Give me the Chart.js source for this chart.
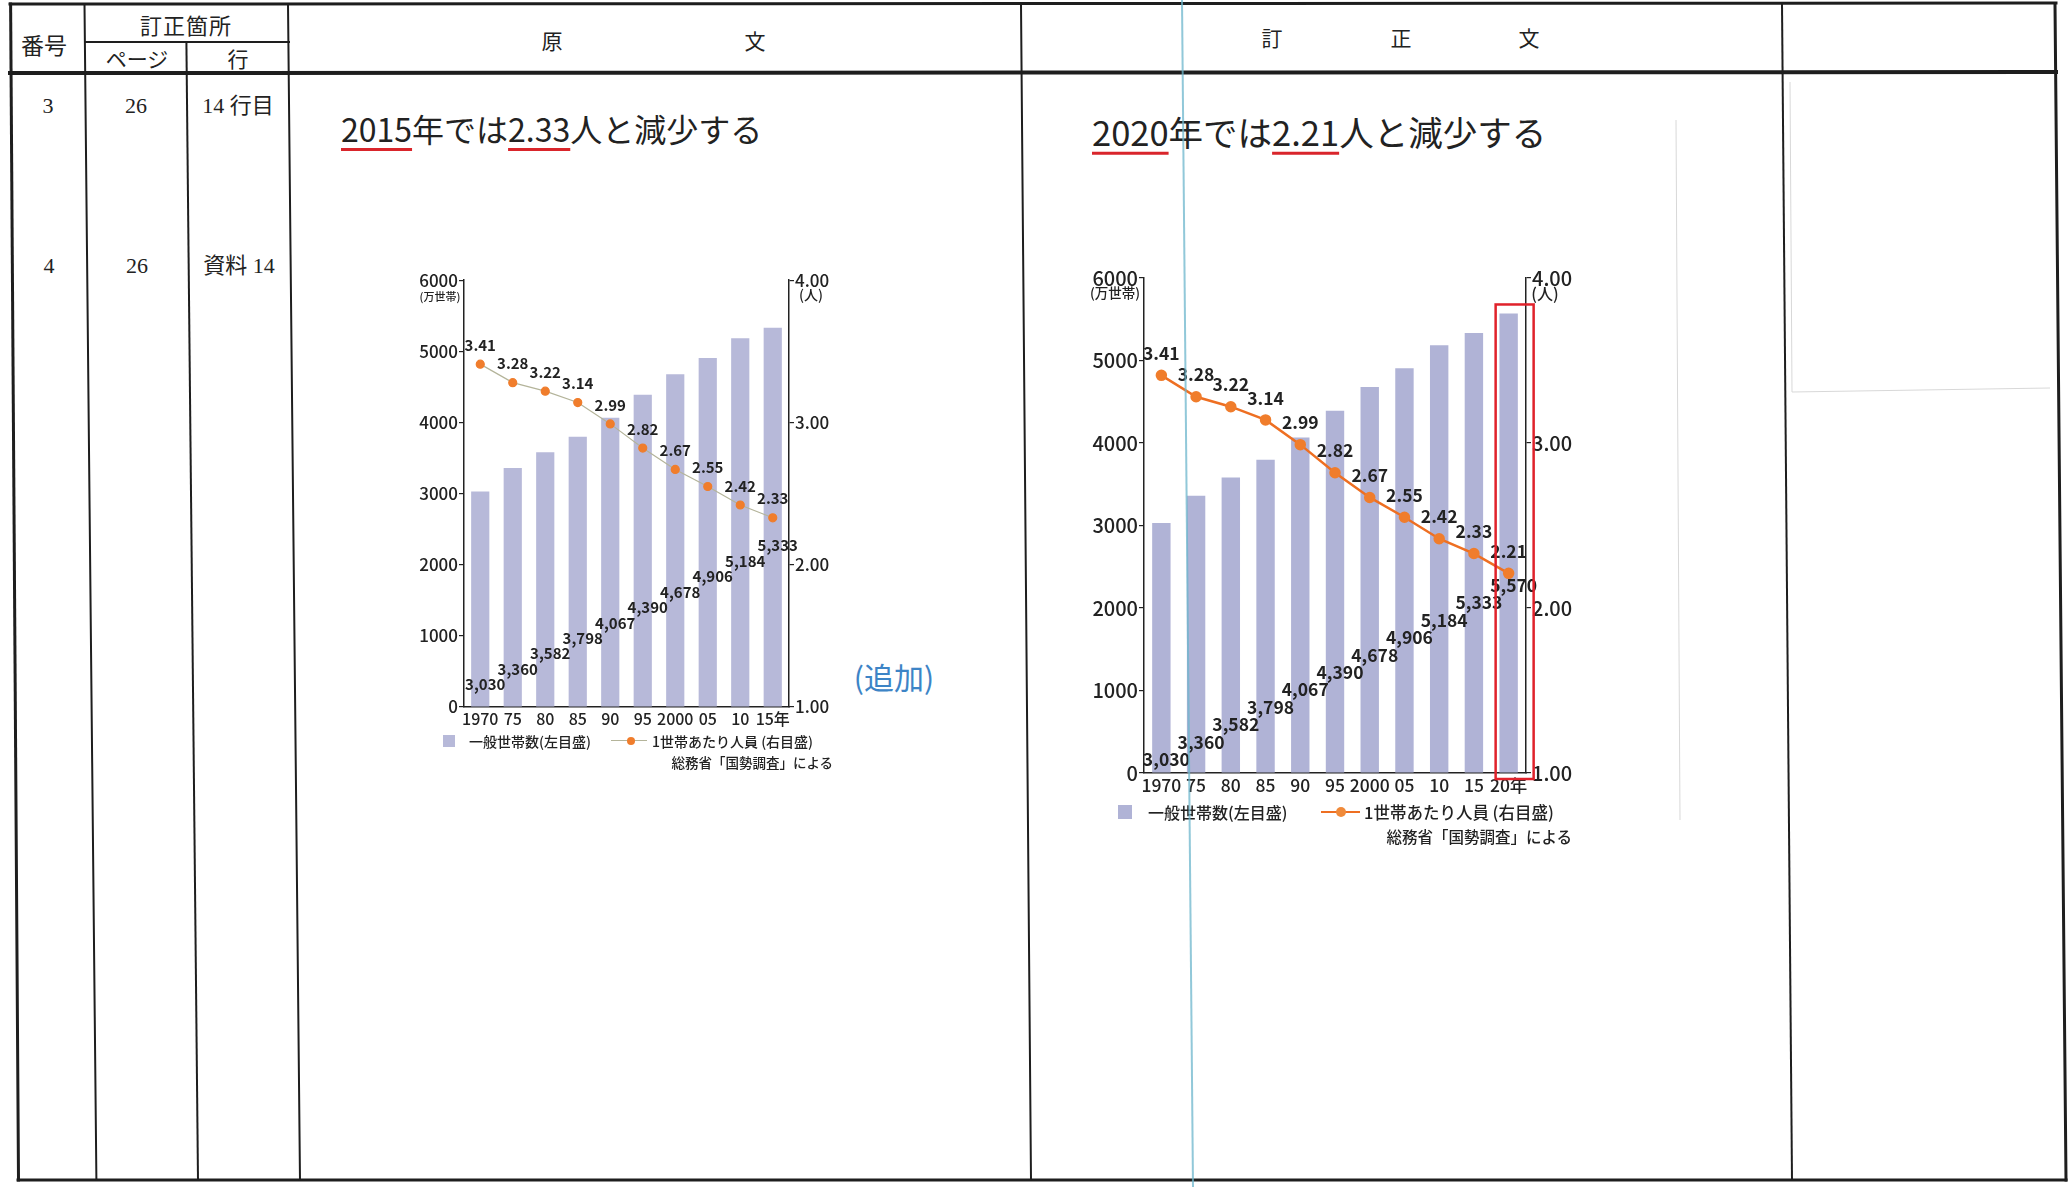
<!DOCTYPE html>
<html lang="ja">
<head>
<meta charset="utf-8">
<title>訂正表 資料14</title>
<script src="https://cdn.jsdelivr.net/npm/chart.js@4.4.1/dist/chart.umd.min.js"></script>
<style>
  html, body { margin: 0; padding: 0; background: #fff; }
  body { width: 2071px; height: 1187px; position: relative; overflow: hidden;
         font-family: "Noto Sans CJK JP", sans-serif; color: #222; }
  .t { position: absolute; white-space: nowrap; line-height: 1; transform: translate(-50%, -50%); }
  .l { position: absolute; white-space: nowrap; line-height: 1; transform: translateY(-50%); }
  .r { position: absolute; white-space: nowrap; line-height: 1; transform: translate(-100%, -50%); }
  .serif { font-family: "Liberation Serif", "Noto Sans CJK JP", serif; }
  .u { text-decoration: underline; text-decoration-color: #d9252b;
       text-decoration-thickness: 3px; text-underline-offset: 6px; }
  .box { position: absolute; }
  .sw { position: absolute; }
  #lines { position: absolute; left: 0; top: 0; pointer-events: none; }
</style>
</head>
<body>

<!-- header -->
<div class="t" style="left:44px;top:44px;font-size:23px">番号</div>
<div class="t" style="left:186px;top:24px;font-size:22px;letter-spacing:1px">訂正箇所</div>
<div class="t" style="left:137px;top:58px;font-size:21px">ページ</div>
<div class="t" style="left:238px;top:58px;font-size:21px">行</div>
<div class="t" style="left:552px;top:40px;font-size:21px">原</div>
<div class="t" style="left:755px;top:40px;font-size:21px">文</div>
<div class="t" style="left:1272px;top:37px;font-size:21px">訂</div>
<div class="t" style="left:1401px;top:37px;font-size:21px">正</div>
<div class="t" style="left:1529px;top:37px;font-size:21px">文</div>

<!-- rows -->
<div class="t serif" style="left:48px;top:106px;font-size:22px">3</div>
<div class="t serif" style="left:136px;top:106px;font-size:22px">26</div>
<div class="t serif" style="left:238px;top:106px;font-size:22px">14 行目</div>
<div class="t serif" style="left:49px;top:266px;font-size:22px">4</div>
<div class="t serif" style="left:137px;top:266px;font-size:22px">26</div>
<div class="t serif" style="left:239px;top:266px;font-size:22px">資料 14</div>

<div class="l" style="left:341px;top:128px;font-size:32px"><span class="u">2015</span>年では<span class="u">2.33</span>人と減少する</div>
<div class="l" style="left:1092px;top:131px;font-size:34.5px"><span class="u">2020</span>年では<span class="u">2.21</span>人と減少する</div>

<div class="t" style="left:894px;top:676px;font-size:30px;color:#3d84c6">(追加)</div>

<!-- chart 1 -->
<div class="box" style="left:404px;top:269px;width:445px;height:468px"><canvas id="chartOld"></canvas></div>
<div class="t" style="left:440px;top:296px;font-size:11px;font-weight:500">(万世帯)</div>
<div class="t" style="left:811px;top:294px;font-size:14px;font-weight:500">(人)</div>
<div class="sw" style="left:443px;top:735px;width:12px;height:12px;background:#b7b9d9"></div>
<div class="l" style="left:469px;top:741px;font-size:14px;font-weight:500">一般世帯数(左目盛)</div>
<div class="sw" style="left:611px;top:740px;width:36px;height:1px;background:#b4b49a"></div>
<div class="sw" style="left:627px;top:737px;width:8px;height:8px;border-radius:50%;background:#f07d2c"></div>
<div class="l" style="left:652px;top:741px;font-size:14px;font-weight:500">1世帯あたり人員 (右目盛)</div>
<div class="r" style="left:833px;top:763px;font-size:13.5px;font-weight:500">総務省「国勢調査」による</div>

<!-- chart 2 -->
<div class="box" style="left:1084px;top:265px;width:502px;height:538px"><canvas id="chartNew"></canvas></div>
<div class="t" style="left:1115px;top:293px;font-size:13.5px;font-weight:500">(万世帯)</div>
<div class="t" style="left:1545px;top:293px;font-size:16px;font-weight:500">(人)</div>
<div class="sw" style="left:1118px;top:805px;width:14px;height:14px;background:#b0b3d6"></div>
<div class="l" style="left:1148px;top:812px;font-size:16px;font-weight:500">一般世帯数(左目盛)</div>
<div class="sw" style="left:1321px;top:811px;width:39px;height:2px;background:#ee6f22"></div>
<div class="sw" style="left:1336px;top:807px;width:10px;height:10px;border-radius:50%;background:#f08a3a"></div>
<div class="l" style="left:1364px;top:812px;font-size:16.5px;font-weight:500">1世帯あたり人員 (右目盛)</div>
<div class="r" style="left:1572px;top:837px;font-size:15.5px;font-weight:500">総務省「国勢調査」による</div>

<!-- table rules -->
<svg id="lines" width="2071" height="1187" viewBox="0 0 2071 1187">
  <g stroke="#1e1e1e" fill="none" stroke-linecap="square">
    <line x1="10" y1="4" x2="2056" y2="3" stroke-width="3"/>
    <line x1="18" y1="1180" x2="2066" y2="1180" stroke-width="3"/>
    <line x1="10" y1="73" x2="2056" y2="72" stroke-width="4"/>
    <line x1="85" y1="42" x2="289" y2="42" stroke-width="2"/>
    <line x1="10.6" y1="4" x2="18.5" y2="1180" stroke-width="3"/>
    <line x1="84.5" y1="4" x2="96.4" y2="1180" stroke-width="2"/>
    <line x1="186.4" y1="42" x2="198" y2="1180" stroke-width="2"/>
    <line x1="288" y1="4" x2="300" y2="1180" stroke-width="2"/>
    <line x1="1021" y1="4" x2="1031" y2="1180" stroke-width="2"/>
    <line x1="1782" y1="4" x2="1792" y2="1180" stroke-width="2"/>
    <line x1="2055" y1="4" x2="2066" y2="1180" stroke-width="3"/>
  </g>
  <g stroke="#d8d8d8" stroke-width="1" fill="none">
    <line x1="1790" y1="82" x2="1792" y2="392"/>
    <line x1="1792" y1="392" x2="2050" y2="388"/>
    <line x1="1676" y1="120" x2="1680" y2="820"/>
  </g>
  <line x1="1182" y1="0" x2="1193" y2="1187" stroke="#6cb6cc" stroke-width="2" opacity="0.75"/>
</svg>

<script>
const yearsOld = ["1970", "75", "80", "85", "90", "95", "2000", "05", "10", "15年"];
const yearsNew = ["1970", "75", "80", "85", "90", "95", "2000", "05", "10", "15", "20年"];
const households = [3030, 3360, 3582, 3798, 4067, 4390, 4678, 4906, 5184, 5333, 5570];
const persons = [3.41, 3.28, 3.22, 3.14, 2.99, 2.82, 2.67, 2.55, 2.42, 2.33, 2.21];
const leftTicks = [0, 1000, 2000, 3000, 4000, 5000, 6000];
const rightTicks = [1, 2, 3, 4];

Chart.defaults.font.family = "'Noto Sans CJK JP', sans-serif";
Chart.defaults.color = "#222";

// numbers written on the bars and above the dots
const valueLabels = {
  id: "valueLabels",
  afterDatasetsDraw(chart, args, opts) {
    const ctx = chart.ctx;
    const y = chart.scales.y;
    const bars = chart.getDatasetMeta(0).data;
    const dots = chart.getDatasetMeta(1).data;
    ctx.save();
    ctx.fillStyle = "#222";
    ctx.textAlign = "center";
    ctx.textBaseline = "middle";
    ctx.font = "bold " + opts.size + "px 'Noto Sans CJK JP'";
    bars.forEach((bar, i) => {
      const v = chart.data.datasets[0].data[i];
      ctx.fillText(v.toLocaleString("en-US"), bar.x + 5, y.getPixelForValue(opts.base + i * opts.step));
    });
    dots.forEach((pt, i) => {
      const v = chart.data.datasets[1].data[i];
      ctx.fillText(v.toFixed(2), pt.x, pt.y - opts.lift);
    });
    ctx.restore();
  }
};

// red frame round the newly added bar
const markLast = {
  id: "markLast",
  afterDraw(chart, args, opts) {
    if (!opts.on) return;
    const bars = chart.getDatasetMeta(0).data;
    const bar = bars[bars.length - 1];
    const ctx = chart.ctx;
    ctx.save();
    ctx.strokeStyle = "#e0222b";
    ctx.lineWidth = 2.5;
    const top = bar.y - 9, bottom = chart.chartArea.bottom + 6;
    ctx.strokeRect(bar.x - 13, top, 38, bottom - top);
    ctx.restore();
  }
};

function makeChart(id, labels, s) {
  const n = labels.length;
  const yFont = { size: s.tick, weight: "500" };
  const xFont = { size: s.xtick, weight: "500" };
  return new Chart(document.getElementById(id), {
    type: "bar",
    data: {
      labels: labels,
      datasets: [
        {
          type: "bar",
          data: households.slice(0, n),
          backgroundColor: s.barColor,
          barPercentage: s.barPct,
          categoryPercentage: 1,
          yAxisID: "y",
          order: 1
        },
        {
          type: "line",
          data: persons.slice(0, n),
          borderColor: s.lineColor,
          borderWidth: s.lineWidth,
          pointBackgroundColor: "#f07d2c",
          pointBorderColor: "#f07d2c",
          pointRadius: s.dot,
          tension: 0,
          yAxisID: "y1",
          order: 0
        }
      ]
    },
    options: {
      responsive: true,
      maintainAspectRatio: false,
      animation: false,
      layout: { padding: { top: 10, right: 0, bottom: 0, left: 0 } },
      plugins: {
        legend: { display: false },
        tooltip: { enabled: false },
        valueLabels: { size: s.label, base: s.base, step: s.step, lift: s.lift },
        markLast: { on: s.mark }
      },
      scales: {
        x: {
          grid: { display: false, drawTicks: false },
          border: { color: "#222", width: 1.5 },
          ticks: { font: xFont, padding: 2, maxRotation: 0, autoSkip: false },
          afterFit: sc => { sc.height = 30; }
        },
        y: {
          position: "left",
          min: 0, max: 6000,
          afterBuildTicks: sc => { sc.ticks = leftTicks.map(v => ({ value: v })); },
          ticks: { font: yFont, padding: 1, callback: v => String(v) },
          grid: { drawOnChartArea: false, tickLength: 5, color: "#222", lineWidth: 1.2 },
          border: { color: "#222", width: 1.5 },
          afterFit: sc => { sc.width = 60; }
        },
        y1: {
          position: "right",
          min: 1, max: 4,
          afterBuildTicks: sc => { sc.ticks = rightTicks.map(v => ({ value: v })); },
          ticks: { font: yFont, padding: 1, callback: v => v.toFixed(2) },
          grid: { drawOnChartArea: false, tickLength: 5, color: "#222", lineWidth: 1.2 },
          border: { color: "#222", width: 1.5 },
          afterFit: sc => { sc.width = 60; }
        }
      }
    },
    plugins: [valueLabels, markLast]
  });
}

makeChart("chartOld", yearsOld, {
  tick: 17, xtick: 16, label: 15, barColor: "#b7b9d9", barPct: 0.56,
  lineColor: "#b4b49a", lineWidth: 1.2, dot: 4,
  base: 315, step: 217, lift: 19, mark: false
});

makeChart("chartNew", yearsNew, {
  tick: 20, xtick: 17.5, label: 17.5, barColor: "#b0b3d6", barPct: 0.53,
  lineColor: "#ee6f22", lineWidth: 2.5, dot: 4.5,
  base: 160, step: 212, lift: 22, mark: true
});
</script>
</body>
</html>
